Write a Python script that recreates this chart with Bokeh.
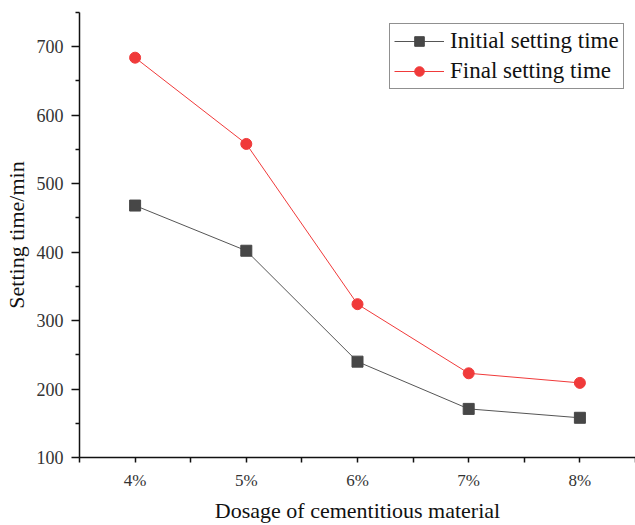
from bokeh.plotting import figure
from bokeh.models import FixedTicker, Range1d, Legend
from bokeh.embed import file_html
from bokeh.resources import INLINE

dosage = [4, 5, 6, 7, 8]
dosage_labels = ["4%", "5%", "6%", "7%", "8%"]
initial_time = [468, 402, 240, 171, 158]
final_time = [684, 558, 324, 223, 209]

FONT = "Liberation Serif"

p = figure(width=635, height=525, output_backend="svg", toolbar_location=None,
           x_range=Range1d(3.5, 8.5), y_range=Range1d(100, 750),
           min_border_left=79, min_border_right=0, min_border_top=12, min_border_bottom=60)
p.outline_line_color = None
p.xgrid.grid_line_color = None
p.ygrid.grid_line_color = None
p.background_fill_color = "white"
p.border_fill_color = "white"

r1 = p.line(dosage, initial_time, line_color="#555555", line_width=1)
s1 = p.scatter(dosage, initial_time, marker="square", size=11, fill_color="#474747", line_color="#474747")
r2 = p.line(dosage, final_time, line_color="#f03a3a", line_width=1)
s2 = p.scatter(dosage, final_time, marker="circle", size=11, fill_color="#f03a3a", line_color="#f03a3a")

legend = Legend(items=[("Initial setting time", [r1, s1]), ("Final setting time", [r2, s2])],
                location=(310, 368))
legend.label_text_font = FONT
legend.label_text_font_size = "23px"
legend.label_text_color = "#111111"
legend.border_line_color = "#222222"
legend.border_line_width = 1
legend.glyph_width = 50
legend.glyph_height = 24
legend.label_height = 24
legend.spacing = 4
legend.padding = 4
legend.margin = 0
legend.label_standoff = 6
legend.background_fill_alpha = 1
p.add_layout(legend)

p.xaxis.ticker = FixedTicker(ticks=dosage, minor_ticks=[3.5, 4.5, 5.5, 6.5, 7.5, 8.5])
p.xaxis.major_label_overrides = {d: l for d, l in zip(dosage, dosage_labels)}
p.yaxis.ticker = FixedTicker(ticks=[100, 200, 300, 400, 500, 600, 700],
                             minor_ticks=[150, 250, 350, 450, 550, 650, 750])

for ax in (p.xaxis[0], p.yaxis[0]):
    ax.axis_line_color = "#111111"
    ax.axis_line_width = 1.5
    ax.major_tick_line_color = "#111111"
    ax.minor_tick_line_color = "#111111"
    ax.major_tick_line_width = 1.5
    ax.minor_tick_line_width = 1.5
    ax.major_tick_in = 0
    ax.minor_tick_in = 0
    ax.major_label_text_font = FONT
    ax.major_label_text_color = "#333333"
    ax.axis_label_text_font = FONT
    ax.axis_label_text_font_size = "22px"
    ax.axis_label_text_font_style = "normal"
    ax.axis_label_text_color = "#111111"

p.xaxis.major_label_text_font_size = "17px"
p.yaxis.major_label_text_font_size = "18px"
p.xaxis.major_tick_out = 5
p.xaxis.minor_tick_out = 5
p.yaxis.major_tick_out = 8
p.yaxis.minor_tick_out = 4
p.xaxis.major_label_standoff = 8
p.yaxis.major_label_standoff = 8
p.xaxis.axis_label = "Dosage of cementitious material"
p.yaxis.axis_label = "Setting time/min"
p.xaxis.axis_label_standoff = 5
p.yaxis.axis_label_standoff = 5

open("out.html", "w").write(file_html(p, INLINE))
